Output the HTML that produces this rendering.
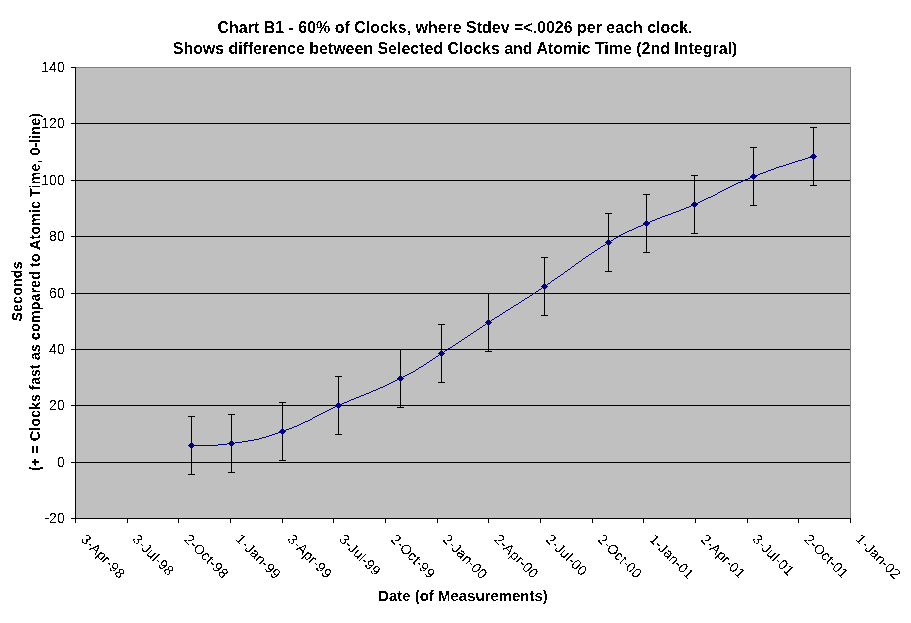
<!DOCTYPE html>
<html><head><meta charset="utf-8"><title>Chart B1</title>
<style>
html,body{margin:0;padding:0;background:#fff;}
svg{display:block;}
text{font-family:"Liberation Sans",Arial,sans-serif;fill:#000;}
.b{font-weight:bold;}
.t{font-size:16px;font-weight:bold;}
.a{font-size:14px;}
</style></head><body>
<svg width="911" height="623" viewBox="0 0 911 623">
<rect x="0" y="0" width="911" height="623" fill="#fff"/>
<defs><filter id="na" x="0" y="0" width="100%" height="100%" filterUnits="userSpaceOnUse" primitiveUnits="userSpaceOnUse" color-interpolation-filters="sRGB"><feComponentTransfer><feFuncA type="discrete" tableValues="0 0 1 1"/></feComponentTransfer></filter></defs>
<g shape-rendering="crispEdges">
<rect x="75" y="67" width="776" height="452" fill="#c0c0c0"/>
<rect x="75" y="67" width="776" height="1" fill="#808080"/>
<rect x="850" y="67" width="1" height="452" fill="#808080"/>
<rect x="75" y="123" width="775" height="1" fill="#000"/>
<rect x="75" y="180" width="775" height="1" fill="#000"/>
<rect x="75" y="236" width="775" height="1" fill="#000"/>
<rect x="75" y="293" width="775" height="1" fill="#000"/>
<rect x="75" y="349" width="775" height="1" fill="#000"/>
<rect x="75" y="405" width="775" height="1" fill="#000"/>
<rect x="75" y="462" width="775" height="1" fill="#000"/>
<rect x="75" y="67" width="1" height="456" fill="#000"/>
<rect x="71" y="518" width="780" height="1" fill="#000"/>
<rect x="71" y="67" width="5" height="1" fill="#000"/>
<rect x="71" y="123" width="5" height="1" fill="#000"/>
<rect x="71" y="180" width="5" height="1" fill="#000"/>
<rect x="71" y="236" width="5" height="1" fill="#000"/>
<rect x="71" y="293" width="5" height="1" fill="#000"/>
<rect x="71" y="349" width="5" height="1" fill="#000"/>
<rect x="71" y="405" width="5" height="1" fill="#000"/>
<rect x="71" y="462" width="5" height="1" fill="#000"/>
<rect x="71" y="518" width="5" height="1" fill="#000"/>
<rect x="75" y="518" width="1" height="5" fill="#000"/>
<rect x="127" y="518" width="1" height="5" fill="#000"/>
<rect x="178" y="518" width="1" height="5" fill="#000"/>
<rect x="230" y="518" width="1" height="5" fill="#000"/>
<rect x="282" y="518" width="1" height="5" fill="#000"/>
<rect x="333" y="518" width="1" height="5" fill="#000"/>
<rect x="385" y="518" width="1" height="5" fill="#000"/>
<rect x="437" y="518" width="1" height="5" fill="#000"/>
<rect x="488" y="518" width="1" height="5" fill="#000"/>
<rect x="540" y="518" width="1" height="5" fill="#000"/>
<rect x="592" y="518" width="1" height="5" fill="#000"/>
<rect x="643" y="518" width="1" height="5" fill="#000"/>
<rect x="695" y="518" width="1" height="5" fill="#000"/>
<rect x="747" y="518" width="1" height="5" fill="#000"/>
<rect x="798" y="518" width="1" height="5" fill="#000"/>
<rect x="850" y="518" width="1" height="5" fill="#000"/>
<rect x="191" y="416" width="1" height="59" fill="#000"/>
<rect x="188" y="416" width="7" height="1" fill="#000"/>
<rect x="188" y="474" width="7" height="1" fill="#000"/>
<rect x="231" y="414" width="1" height="59" fill="#000"/>
<rect x="228" y="414" width="7" height="1" fill="#000"/>
<rect x="228" y="472" width="7" height="1" fill="#000"/>
<rect x="282" y="402" width="1" height="59" fill="#000"/>
<rect x="279" y="402" width="7" height="1" fill="#000"/>
<rect x="279" y="460" width="7" height="1" fill="#000"/>
<rect x="338" y="376" width="1" height="59" fill="#000"/>
<rect x="335" y="376" width="7" height="1" fill="#000"/>
<rect x="335" y="434" width="7" height="1" fill="#000"/>
<rect x="400" y="349" width="1" height="59" fill="#000"/>
<rect x="397" y="349" width="7" height="1" fill="#000"/>
<rect x="397" y="407" width="7" height="1" fill="#000"/>
<rect x="441" y="324" width="1" height="59" fill="#000"/>
<rect x="438" y="324" width="7" height="1" fill="#000"/>
<rect x="438" y="382" width="7" height="1" fill="#000"/>
<rect x="488" y="293" width="1" height="59" fill="#000"/>
<rect x="485" y="293" width="7" height="1" fill="#000"/>
<rect x="485" y="351" width="7" height="1" fill="#000"/>
<rect x="544" y="257" width="1" height="59" fill="#000"/>
<rect x="541" y="257" width="7" height="1" fill="#000"/>
<rect x="541" y="315" width="7" height="1" fill="#000"/>
<rect x="608" y="213" width="1" height="59" fill="#000"/>
<rect x="605" y="213" width="7" height="1" fill="#000"/>
<rect x="605" y="271" width="7" height="1" fill="#000"/>
<rect x="646" y="194" width="1" height="59" fill="#000"/>
<rect x="643" y="194" width="7" height="1" fill="#000"/>
<rect x="643" y="252" width="7" height="1" fill="#000"/>
<rect x="694" y="175" width="1" height="59" fill="#000"/>
<rect x="691" y="175" width="7" height="1" fill="#000"/>
<rect x="691" y="233" width="7" height="1" fill="#000"/>
<rect x="753" y="147" width="1" height="59" fill="#000"/>
<rect x="750" y="147" width="7" height="1" fill="#000"/>
<rect x="750" y="205" width="7" height="1" fill="#000"/>
<rect x="813" y="127" width="1" height="59" fill="#000"/>
<rect x="810" y="127" width="7" height="1" fill="#000"/>
<rect x="810" y="185" width="7" height="1" fill="#000"/>
<path d="M191 445h27v1h-27zM218 444h9v1h-9zM227 443h8v1h-8zM235 442h7v1h-7zM242 441h6v1h-6zM248 440h6v1h-6zM254 439h5v1h-5zM259 438h3v1h-3zM262 437h4v1h-4zM266 436h3v1h-3zM269 435h3v1h-3zM272 434h3v1h-3zM275 433h3v1h-3zM278 432h3v1h-3zM281 431h3v1h-3zM284 430h2v1h-2zM286 429h3v1h-3zM289 428h3v1h-3zM292 427h2v1h-2zM294 426h3v1h-3zM297 425h2v1h-2zM299 424h2v1h-2zM301 423h2v1h-2zM303 422h2v1h-2zM305 421h3v1h-3zM308 420h2v1h-2zM310 419h2v1h-2zM312 418h1v1h-1zM313 417h2v1h-2zM315 416h2v1h-2zM317 415h2v1h-2zM319 414h2v1h-2zM321 413h2v1h-2zM323 412h2v1h-2zM325 411h2v1h-2zM327 410h2v1h-2zM329 409h2v1h-2zM331 408h2v1h-2zM333 407h2v1h-2zM335 406h2v1h-2zM337 405h3v1h-3zM340 404h2v1h-2zM342 403h2v1h-2zM344 402h3v1h-3zM347 401h2v1h-2zM349 400h2v1h-2zM351 399h3v1h-3zM354 398h2v1h-2zM356 397h3v1h-3zM359 396h2v1h-2zM361 395h3v1h-3zM364 394h2v1h-2zM366 393h3v1h-3zM369 392h2v1h-2zM371 391h2v1h-2zM373 390h3v1h-3zM376 389h2v1h-2zM378 388h2v1h-2zM380 387h3v1h-3zM383 386h2v1h-2zM385 385h2v1h-2zM387 384h2v1h-2zM389 383h2v1h-2zM391 382h2v1h-2zM393 381h2v1h-2zM395 380h2v1h-2zM397 379h2v1h-2zM399 378h2v1h-2zM401 377h2v1h-2zM403 376h2v1h-2zM405 375h2v1h-2zM407 374h2v1h-2zM409 373h2v1h-2zM411 372h2v1h-2zM413 371h2v1h-2zM415 370h1v1h-1zM416 369h2v1h-2zM418 368h1v1h-1zM419 367h2v1h-2zM421 366h2v1h-2zM423 365h1v1h-1zM424 364h2v1h-2zM426 363h1v1h-1zM427 362h2v1h-2zM429 361h1v1h-1zM430 360h2v1h-2zM432 359h1v1h-1zM433 358h2v1h-2zM435 357h1v1h-1zM436 356h2v1h-2zM438 355h1v1h-1zM439 354h2v1h-2zM441 353h1v1h-1zM442 352h2v1h-2zM444 351h1v1h-1zM445 350h2v1h-2zM447 349h1v1h-1zM448 348h2v1h-2zM450 347h2v1h-2zM452 346h1v1h-1zM453 345h2v1h-2zM455 344h1v1h-1zM456 343h2v1h-2zM458 342h1v1h-1zM459 341h2v1h-2zM461 340h1v1h-1zM462 339h2v1h-2zM464 338h1v1h-1zM465 337h2v1h-2zM467 336h1v1h-1zM468 335h2v1h-2zM470 334h1v1h-1zM471 333h2v1h-2zM473 332h1v1h-1zM474 331h2v1h-2zM476 330h1v1h-1zM477 329h2v1h-2zM479 328h1v1h-1zM480 327h2v1h-2zM482 326h1v1h-1zM483 325h2v1h-2zM485 324h1v1h-1zM486 323h2v1h-2zM488 322h1v1h-1zM489 321h2v1h-2zM491 320h1v1h-1zM492 319h2v1h-2zM494 318h1v1h-1zM495 317h2v1h-2zM497 316h2v1h-2zM499 315h1v1h-1zM500 314h2v1h-2zM502 313h1v1h-1zM503 312h2v1h-2zM505 311h1v1h-1zM506 310h2v1h-2zM508 309h2v1h-2zM510 308h1v1h-1zM511 307h2v1h-2zM513 306h1v1h-1zM514 305h2v1h-2zM516 304h2v1h-2zM518 303h1v1h-1zM519 302h2v1h-2zM521 301h1v1h-1zM522 300h2v1h-2zM524 299h1v1h-1zM525 298h2v1h-2zM527 297h2v1h-2zM529 296h1v1h-1zM530 295h2v1h-2zM532 294h1v1h-1zM533 293h2v1h-2zM535 292h1v1h-1zM536 291h2v1h-2zM538 290h1v1h-1zM539 289h2v1h-2zM541 288h1v1h-1zM542 287h2v1h-2zM544 286h1v1h-1zM545 285h2v1h-2zM547 284h1v1h-1zM548 283h2v1h-2zM550 282h1v1h-1zM551 281h1v1h-1zM552 280h2v1h-2zM554 279h1v1h-1zM555 278h2v1h-2zM557 277h1v1h-1zM558 276h2v1h-2zM560 275h1v1h-1zM561 274h2v1h-2zM563 273h1v1h-1zM564 272h1v1h-1zM565 271h2v1h-2zM567 270h1v1h-1zM568 269h2v1h-2zM570 268h1v1h-1zM571 267h1v1h-1zM572 266h2v1h-2zM574 265h1v1h-1zM575 264h1v1h-1zM576 263h2v1h-2zM578 262h1v1h-1zM579 261h2v1h-2zM581 260h1v1h-1zM582 259h1v1h-1zM583 258h2v1h-2zM585 257h1v1h-1zM586 256h2v1h-2zM588 255h1v1h-1zM589 254h2v1h-2zM591 253h1v1h-1zM592 252h2v1h-2zM594 251h1v1h-1zM595 250h2v1h-2zM597 249h1v1h-1zM598 248h2v1h-2zM600 247h1v1h-1zM601 246h2v1h-2zM603 245h2v1h-2zM605 244h1v1h-1zM606 243h2v1h-2zM608 242h1v1h-1zM609 241h2v1h-2zM611 240h2v1h-2zM613 239h1v1h-1zM614 238h2v1h-2zM616 237h2v1h-2zM618 236h1v1h-1zM619 235h2v1h-2zM621 234h2v1h-2zM623 233h2v1h-2zM625 232h2v1h-2zM627 231h2v1h-2zM629 230h3v1h-3zM632 229h2v1h-2zM634 228h2v1h-2zM636 227h2v1h-2zM638 226h3v1h-3zM641 225h2v1h-2zM643 224h2v1h-2zM645 223h3v1h-3zM648 222h2v1h-2zM650 221h2v1h-2zM652 220h3v1h-3zM655 219h2v1h-2zM657 218h3v1h-3zM660 217h2v1h-2zM662 216h3v1h-3zM665 215h3v1h-3zM668 214h3v1h-3zM671 213h2v1h-2zM673 212h3v1h-3zM676 211h3v1h-3zM679 210h2v1h-2zM681 209h3v1h-3zM684 208h2v1h-2zM686 207h3v1h-3zM689 206h2v1h-2zM691 205h2v1h-2zM693 204h3v1h-3zM696 203h2v1h-2zM698 202h2v1h-2zM700 201h2v1h-2zM702 200h2v1h-2zM704 199h2v1h-2zM706 198h2v1h-2zM708 197h3v1h-3zM711 196h2v1h-2zM713 195h2v1h-2zM715 194h2v1h-2zM717 193h1v1h-1zM718 192h2v1h-2zM720 191h2v1h-2zM722 190h2v1h-2zM724 189h2v1h-2zM726 188h2v1h-2zM728 187h2v1h-2zM730 186h2v1h-2zM732 185h2v1h-2zM734 184h2v1h-2zM736 183h2v1h-2zM738 182h3v1h-3zM741 181h2v1h-2zM743 180h2v1h-2zM745 179h3v1h-3zM748 178h2v1h-2zM750 177h2v1h-2zM752 176h3v1h-3zM755 175h3v1h-3zM758 174h2v1h-2zM760 173h3v1h-3zM763 172h3v1h-3zM766 171h2v1h-2zM768 170h3v1h-3zM771 169h3v1h-3zM774 168h2v1h-2zM776 167h3v1h-3zM779 166h4v1h-4zM783 165h3v1h-3zM786 164h3v1h-3zM789 163h3v1h-3zM792 162h3v1h-3zM795 161h3v1h-3zM798 160h4v1h-4zM802 159h3v1h-3zM805 158h3v1h-3zM808 157h4v1h-4zM812 156h2v1h-2z" fill="#000080"/>
<rect x="191" y="442" width="1" height="1" fill="#000080"/>
<rect x="190" y="443" width="3" height="1" fill="#000080"/>
<rect x="189" y="444" width="5" height="1" fill="#000080"/>
<rect x="188" y="445" width="7" height="1" fill="#000080"/>
<rect x="189" y="446" width="5" height="1" fill="#000080"/>
<rect x="190" y="447" width="3" height="1" fill="#000080"/>
<rect x="191" y="448" width="1" height="1" fill="#000080"/>
<rect x="231" y="440" width="1" height="1" fill="#000080"/>
<rect x="230" y="441" width="3" height="1" fill="#000080"/>
<rect x="229" y="442" width="5" height="1" fill="#000080"/>
<rect x="228" y="443" width="7" height="1" fill="#000080"/>
<rect x="229" y="444" width="5" height="1" fill="#000080"/>
<rect x="230" y="445" width="3" height="1" fill="#000080"/>
<rect x="231" y="446" width="1" height="1" fill="#000080"/>
<rect x="282" y="428" width="1" height="1" fill="#000080"/>
<rect x="281" y="429" width="3" height="1" fill="#000080"/>
<rect x="280" y="430" width="5" height="1" fill="#000080"/>
<rect x="279" y="431" width="7" height="1" fill="#000080"/>
<rect x="280" y="432" width="5" height="1" fill="#000080"/>
<rect x="281" y="433" width="3" height="1" fill="#000080"/>
<rect x="282" y="434" width="1" height="1" fill="#000080"/>
<rect x="338" y="402" width="1" height="1" fill="#000080"/>
<rect x="337" y="403" width="3" height="1" fill="#000080"/>
<rect x="336" y="404" width="5" height="1" fill="#000080"/>
<rect x="335" y="405" width="7" height="1" fill="#000080"/>
<rect x="336" y="406" width="5" height="1" fill="#000080"/>
<rect x="337" y="407" width="3" height="1" fill="#000080"/>
<rect x="338" y="408" width="1" height="1" fill="#000080"/>
<rect x="400" y="375" width="1" height="1" fill="#000080"/>
<rect x="399" y="376" width="3" height="1" fill="#000080"/>
<rect x="398" y="377" width="5" height="1" fill="#000080"/>
<rect x="397" y="378" width="7" height="1" fill="#000080"/>
<rect x="398" y="379" width="5" height="1" fill="#000080"/>
<rect x="399" y="380" width="3" height="1" fill="#000080"/>
<rect x="400" y="381" width="1" height="1" fill="#000080"/>
<rect x="441" y="350" width="1" height="1" fill="#000080"/>
<rect x="440" y="351" width="3" height="1" fill="#000080"/>
<rect x="439" y="352" width="5" height="1" fill="#000080"/>
<rect x="438" y="353" width="7" height="1" fill="#000080"/>
<rect x="439" y="354" width="5" height="1" fill="#000080"/>
<rect x="440" y="355" width="3" height="1" fill="#000080"/>
<rect x="441" y="356" width="1" height="1" fill="#000080"/>
<rect x="488" y="319" width="1" height="1" fill="#000080"/>
<rect x="487" y="320" width="3" height="1" fill="#000080"/>
<rect x="486" y="321" width="5" height="1" fill="#000080"/>
<rect x="485" y="322" width="7" height="1" fill="#000080"/>
<rect x="486" y="323" width="5" height="1" fill="#000080"/>
<rect x="487" y="324" width="3" height="1" fill="#000080"/>
<rect x="488" y="325" width="1" height="1" fill="#000080"/>
<rect x="544" y="283" width="1" height="1" fill="#000080"/>
<rect x="543" y="284" width="3" height="1" fill="#000080"/>
<rect x="542" y="285" width="5" height="1" fill="#000080"/>
<rect x="541" y="286" width="7" height="1" fill="#000080"/>
<rect x="542" y="287" width="5" height="1" fill="#000080"/>
<rect x="543" y="288" width="3" height="1" fill="#000080"/>
<rect x="544" y="289" width="1" height="1" fill="#000080"/>
<rect x="608" y="239" width="1" height="1" fill="#000080"/>
<rect x="607" y="240" width="3" height="1" fill="#000080"/>
<rect x="606" y="241" width="5" height="1" fill="#000080"/>
<rect x="605" y="242" width="7" height="1" fill="#000080"/>
<rect x="606" y="243" width="5" height="1" fill="#000080"/>
<rect x="607" y="244" width="3" height="1" fill="#000080"/>
<rect x="608" y="245" width="1" height="1" fill="#000080"/>
<rect x="646" y="220" width="1" height="1" fill="#000080"/>
<rect x="645" y="221" width="3" height="1" fill="#000080"/>
<rect x="644" y="222" width="5" height="1" fill="#000080"/>
<rect x="643" y="223" width="7" height="1" fill="#000080"/>
<rect x="644" y="224" width="5" height="1" fill="#000080"/>
<rect x="645" y="225" width="3" height="1" fill="#000080"/>
<rect x="646" y="226" width="1" height="1" fill="#000080"/>
<rect x="694" y="201" width="1" height="1" fill="#000080"/>
<rect x="693" y="202" width="3" height="1" fill="#000080"/>
<rect x="692" y="203" width="5" height="1" fill="#000080"/>
<rect x="691" y="204" width="7" height="1" fill="#000080"/>
<rect x="692" y="205" width="5" height="1" fill="#000080"/>
<rect x="693" y="206" width="3" height="1" fill="#000080"/>
<rect x="694" y="207" width="1" height="1" fill="#000080"/>
<rect x="753" y="173" width="1" height="1" fill="#000080"/>
<rect x="752" y="174" width="3" height="1" fill="#000080"/>
<rect x="751" y="175" width="5" height="1" fill="#000080"/>
<rect x="750" y="176" width="7" height="1" fill="#000080"/>
<rect x="751" y="177" width="5" height="1" fill="#000080"/>
<rect x="752" y="178" width="3" height="1" fill="#000080"/>
<rect x="753" y="179" width="1" height="1" fill="#000080"/>
<rect x="813" y="153" width="1" height="1" fill="#000080"/>
<rect x="812" y="154" width="3" height="1" fill="#000080"/>
<rect x="811" y="155" width="5" height="1" fill="#000080"/>
<rect x="810" y="156" width="7" height="1" fill="#000080"/>
<rect x="811" y="157" width="5" height="1" fill="#000080"/>
<rect x="812" y="158" width="3" height="1" fill="#000080"/>
<rect x="813" y="159" width="1" height="1" fill="#000080"/>
</g>
<g filter="url(#na)">
<text class="t" x="455" y="33" text-anchor="middle" textLength="475" lengthAdjust="spacingAndGlyphs">Chart B1 - 60% of Clocks, where Stdev =&lt;.0026 per each clock.</text>
<text class="t" x="455" y="54" text-anchor="middle" textLength="564.5" lengthAdjust="spacingAndGlyphs">Shows difference between Selected Clocks and Atomic Time (2nd Integral)</text>
<text class="a" x="64.7" y="72" text-anchor="end">140</text>
<text class="a" x="64.7" y="128" text-anchor="end">120</text>
<text class="a" x="64.7" y="185" text-anchor="end">100</text>
<text class="a" x="64.7" y="241" text-anchor="end">80</text>
<text class="a" x="64.7" y="298" text-anchor="end">60</text>
<text class="a" x="64.7" y="354" text-anchor="end">40</text>
<text class="a" x="64.7" y="410" text-anchor="end">20</text>
<text class="a" x="64.7" y="467" text-anchor="end">0</text>
<text class="a" x="64.7" y="523" text-anchor="end">-20</text>
<text class="a" transform="translate(80.1 540.1) rotate(45)" letter-spacing="0.12">3-Apr-98</text>
<text class="a" transform="translate(131.8 540.1) rotate(45)" letter-spacing="0.12">3-Jul-98</text>
<text class="a" transform="translate(183.4 540.1) rotate(45)" letter-spacing="0.12">2-Oct-98</text>
<text class="a" transform="translate(235.1 540.1) rotate(45)" letter-spacing="0.12">1-Jan-99</text>
<text class="a" transform="translate(286.8 540.1) rotate(45)" letter-spacing="0.12">3-Apr-99</text>
<text class="a" transform="translate(338.4 540.1) rotate(45)" letter-spacing="0.12">3-Jul-99</text>
<text class="a" transform="translate(390.1 540.1) rotate(45)" letter-spacing="0.12">2-Oct-99</text>
<text class="a" transform="translate(441.8 540.1) rotate(45)" letter-spacing="0.12">2-Jan-00</text>
<text class="a" transform="translate(493.4 540.1) rotate(45)" letter-spacing="0.12">2-Apr-00</text>
<text class="a" transform="translate(545.1 540.1) rotate(45)" letter-spacing="0.12">2-Jul-00</text>
<text class="a" transform="translate(596.8 540.1) rotate(45)" letter-spacing="0.12">2-Oct-00</text>
<text class="a" transform="translate(648.4 540.1) rotate(45)" letter-spacing="0.12">1-Jan-01</text>
<text class="a" transform="translate(700.1 540.1) rotate(45)" letter-spacing="0.12">2-Apr-01</text>
<text class="a" transform="translate(751.8 540.1) rotate(45)" letter-spacing="0.12">3-Jul-01</text>
<text class="a" transform="translate(803.4 540.1) rotate(45)" letter-spacing="0.12">2-Oct-01</text>
<text class="a" transform="translate(855.1 540.1) rotate(45)" letter-spacing="0.12">1-Jan-02</text>
<text class="a b" transform="translate(22 291.5) rotate(-90)" text-anchor="middle" textLength="60" lengthAdjust="spacingAndGlyphs">Seconds</text>
<text class="a b" transform="translate(40 292) rotate(-90)" text-anchor="middle" textLength="358" lengthAdjust="spacingAndGlyphs">(+ = Clocks fast as compared to Atomic Time, 0-line)</text>
<text class="a b" x="463" y="601" text-anchor="middle" textLength="169.5" lengthAdjust="spacingAndGlyphs">Date (of Measurements)</text>
</g>
</svg>
</body></html>
